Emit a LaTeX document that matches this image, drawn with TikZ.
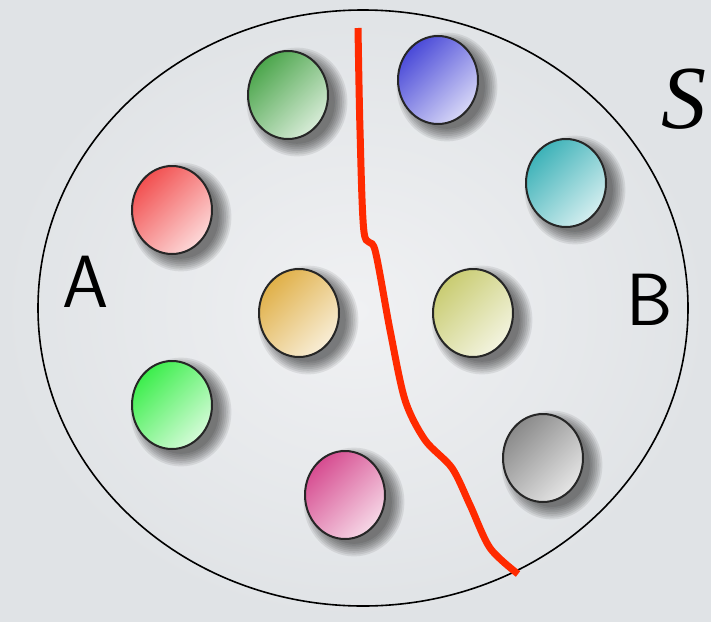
\documentclass[tikz,border=0pt]{standalone}
\usepackage{fontspec}
\newfontface\romainS{Liberation Serif Italic}
\usepackage{tikz}
\usetikzlibrary{shapes.geometric}
\definecolor{fondgris}{HTML}{E0E3E6}
\definecolor{fondclair}{HTML}{F0F1F3}
\definecolor{traitrouge}{HTML}{FF2A00}
\definecolor{billevertfonce}{HTML}{4CA64C}
\definecolor{billebleu}{HTML}{4A4AD8}
\definecolor{billecyan}{HTML}{3DB2B8}
\definecolor{billerouge}{HTML}{F25050}
\definecolor{billeorange}{HTML}{E0B048}
\definecolor{billeolive}{HTML}{C9CC72}
\definecolor{billevert}{HTML}{3CEE4C}
\definecolor{billegris}{HTML}{8A8A8A}
\definecolor{billerose}{HTML}{D64C90}

\begin{document}
\begin{tikzpicture}[x=0.5pt,y=-0.5pt,
    bille/.style  = {ellipse,draw=black!85,line width=1pt,inner sep=0pt,
                     minimum width=40pt,minimum height=44pt},
    lettre/.style = {font=\sffamily\fontsize{37}{37}\selectfont,inner sep=0pt},
  ]

  % Fond
  \useasboundingbox (0,0) rectangle (711,621);
  \shade[inner color=fondclair,outer color=fondgris] (0,0) rectangle (711,621);

  % Ensemble S
  \draw[line width=0.8pt,black] (363,308) ellipse (162.5pt and 149pt);

  % Billes avec leur ombre
  \foreach \nom/\px/\py/\teinte in {
      vertfonce/288/95/billevertfonce,
      bleu/438/80/billebleu,
      cyan/566/183/billecyan,
      rouge/172/210/billerouge,
      orange/299/313/billeorange,
      olive/473/313/billeolive,
      vert/172/405/billevert,
      gris/543/458/billegris,
      rose/345/495/billerose}
  {
    \foreach \k in {1,...,8}
      \fill[black,opacity=0.08] (\px+9,\py+7) ellipse ({18pt+0.9pt*\k} and {20pt+0.9pt*\k});
    \node[bille,top color=\teinte,bottom color=\teinte!22!white,shading angle=45]
      (\nom) at (\px,\py) {};
  }

  % Coupure
  \draw[traitrouge,line width=3.5pt] plot[smooth,tension=0.5] coordinates {
      (358,28) (360,130) (364,232) (375,250) (390,330) (405,400)
      (425,440) (452,468) (470,505) (490,548) (518,574)};

  % Etiquettes
  \node[lettre] (partA) at (86,282) {A};
  \node[lettre] (partB) at (650,300) {B};
  \node[font=\romainS\fontsize{45}{45}\selectfont,inner sep=0pt] (ensS) at (684,99) {S};

\end{tikzpicture}
\end{document}
